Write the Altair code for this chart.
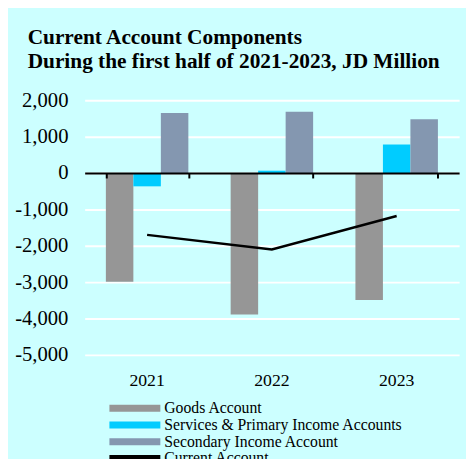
import altair as alt
import pandas as pd

years = ["2021", "2022", "2023"]
goods = [-2990, -3890, -3490]
services = [-365, 65, 785]
secondary = [1650, 1685, 1480]
current = [-1700, -2100, -1180]
series = ["Goods Account", "Services & Primary Income Accounts",
          "Secondary Income Account", "Current Account"]
colors = ["#969696", "#00CCFF", "#8497B0", "#000000"]
y_ticks = [2000, 1000, 0, -1000, -2000, -3000, -4000, -5000]

rows = []
for i, yr in enumerate(years):
    for s, vals in zip(series[:3], [goods, services, secondary]):
        rows.append({"year": yr, "series": s, "value": vals[i]})
bars_df = pd.DataFrame(rows)
line_df = pd.DataFrame({"year": years, "series": series[3], "value": current})

FONT = "Liberation Serif"
x_scale = alt.Scale(domain=years, paddingInner=0.339, paddingOuter=0.17)
y_scale = alt.Scale(domain=[-5000, 2000], nice=False, zero=False)
color_scale = alt.Scale(domain=series, range=colors)
rect_path = "M-1,-0.135L1,-0.135L1,0.135L-1,0.135Z"

y_axis = alt.Axis(values=y_ticks, title=None, grid=True, gridColor="white",
                  gridWidth=2, gridOpacity=1, domain=False, ticks=False,
                  labelPadding=17, labelFontSize=21, labelFont=FONT,
                  labelColor="black",
                  labelExpr="replace(format(datum.value, ','), '\u2212', '-')")

bars = alt.Chart(bars_df).mark_bar().encode(
    x=alt.X("year:N", scale=x_scale, sort=years,
            axis=alt.Axis(orient="bottom", offset=-185, labels=False, title=None,
                          domainColor="black", domainWidth=2, tickColor="black",
                          tickWidth=2, tickSize=5, tickBand="extent", grid=False,
                          zindex=1)),
    xOffset=alt.XOffset("series:N", sort=series[:3],
                        scale=alt.Scale(paddingInner=0, paddingOuter=0)),
    y=alt.Y("value:Q", scale=y_scale, axis=y_axis),
    color=alt.Color("series:N", scale=color_scale,
                    legend=alt.Legend(orient="none", legendX=25, legendY=305,
                                      title=None, symbolType=rect_path, symbolSize=2704,
                                      symbolStrokeWidth=0, labelFont=FONT,
                                      labelFontSize=16, labelColor="black",
                                      labelLimit=400, rowPadding=0, labelOffset=4,
                                      clipHeight=16.7, padding=0)),
)

line = alt.Chart(line_df).mark_line(strokeWidth=2.5).encode(
    x=alt.X("year:N", scale=x_scale, sort=years,
            axis=alt.Axis(orient="top", offset=-296, domain=False, ticks=False,
                          labelFontSize=18, labelFont=FONT, labelColor="black",
                          labelAngle=0, labelPadding=2, title=None, grid=False)),
    y=alt.Y("value:Q", scale=y_scale, axis=y_axis),
    color=alt.Color("series:N", scale=color_scale, legend=None),
)

chart = alt.layer(bars, line).properties(
    width=381, height=259,
    title=alt.Title(["Current Account Components",
                     "During the first half of 2021-2023, JD Million"],
                    anchor="start", frame="group", dx=-58, font=FONT, fontSize=21.7,
                    fontWeight="bold", color="black", lineHeight=24.7, offset=17),
    padding={"left": 78, "top": 90, "right": 7, "bottom": 102},
    autosize=alt.AutoSizeParams(type="none"),
    background="#CCFFFF",
).configure_view(stroke=None)

chart.save("out.html", embed_options={"renderer": "svg", "actions": False})
